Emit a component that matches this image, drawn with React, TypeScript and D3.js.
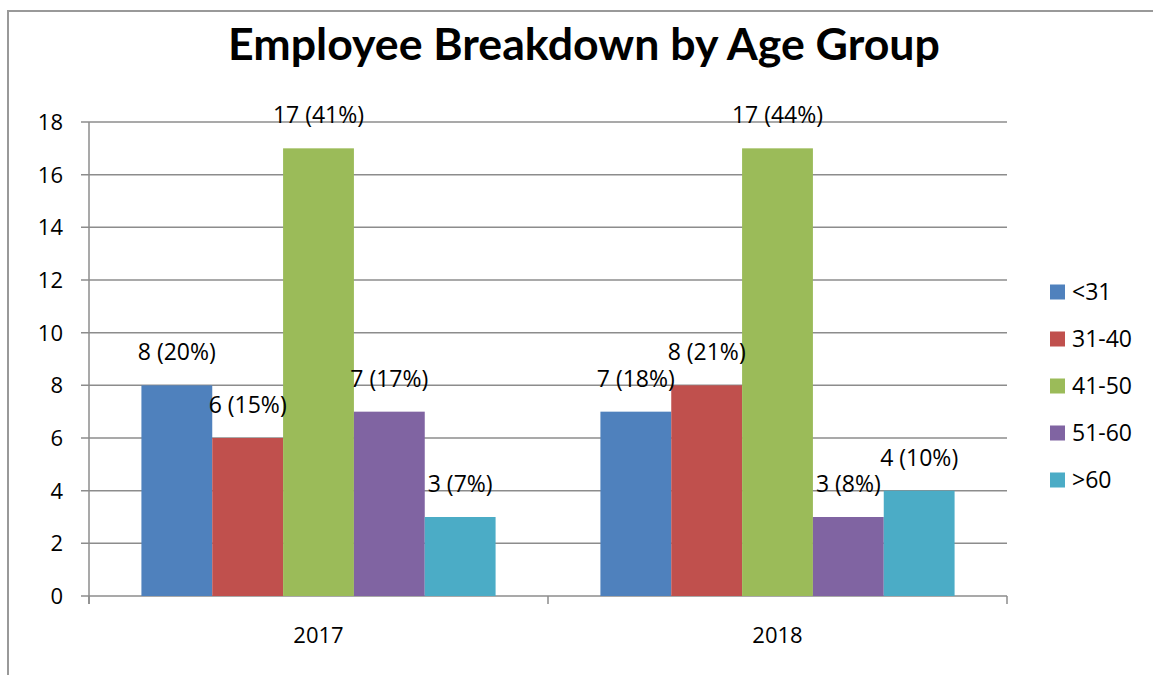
import React, { useEffect, useRef } from 'react'
import * as d3 from 'd3'

const years = ['2017', '2018']
const ageGroups = ['<31', '31-40', '41-50', '51-60', '>60']
const counts2017 = [8, 6, 17, 7, 3]
const counts2018 = [7, 8, 17, 3, 4]
const pct2017 = ['20%', '15%', '41%', '17%', '7%']
const pct2018 = ['18%', '21%', '44%', '8%', '10%']
const yTicks = [0, 2, 4, 6, 8, 10, 12, 14, 16, 18]
const colors = ['#4F81BD', '#C0504D', '#9BBB59', '#8064A2', '#4BACC6']

const W = 1153
const H = 675
const FONT = '"Open Sans", sans-serif'
const TITLE_FONT = 'Lato, "Open Sans", sans-serif'

const App = () => {
  const svgRef = useRef<SVGSVGElement>(null)

  useEffect(() => {
    const svg = d3.select(svgRef.current)
    svg.selectAll('*').remove()

    const plot = { left: 89, right: 1007, top: 122, bottom: 596 }

    // outer frame
    svg.append('rect')
      .attr('x', 8).attr('y', 11)
      .attr('width', W).attr('height', H)
      .attr('fill', 'white')
      .attr('stroke', '#999').attr('stroke-width', 2)

    const title = svg.append('text')
      .attr('x', 584).attr('y', 60)
      .attr('text-anchor', 'middle')
      .style('font-family', TITLE_FONT)
      .style('font-size', '44px')
      .style('font-weight', 'bold')
      .text('Employee Breakdown by Age Group')
    // fit title to the reference width
    const tw = (title.node() as SVGTextElement).getComputedTextLength()
    if (tw > 0) title.style('font-size', `${44 * 712 / tw}px`)

    const x0 = d3.scaleBand().domain(years).range([plot.left, plot.right]).paddingInner(0).paddingOuter(0)
    const x1 = d3.scaleBand().domain(ageGroups).range([0, x0.bandwidth()]).paddingOuter(0.74).paddingInner(0)
    const y = d3.scaleLinear().domain([0, 18]).range([plot.bottom, plot.top])

    const g = svg.append('g')

    // gridlines
    g.selectAll('.grid').data(yTicks).enter().append('line')
      .attr('x1', plot.left - 8).attr('x2', plot.right)
      .attr('y1', d => y(d)).attr('y2', d => y(d))
      .attr('stroke', '#8c8c8c').attr('stroke-width', 1.5)

    // y axis line
    g.append('line')
      .attr('x1', plot.left).attr('x2', plot.left)
      .attr('y1', plot.top).attr('y2', plot.bottom + 8)
      .attr('stroke', '#8c8c8c').attr('stroke-width', 1.5)

    // category boundary ticks
    const bounds = [plot.left, plot.left + x0.bandwidth(), plot.right]
    g.selectAll('.xt').data(bounds).enter().append('line')
      .attr('x1', d => d).attr('x2', d => d)
      .attr('y1', plot.bottom).attr('y2', plot.bottom + 8)
      .attr('stroke', '#8c8c8c').attr('stroke-width', 1.5)

    g.selectAll('.yl').data(yTicks).enter().append('text')
      .attr('x', 63).attr('y', d => y(d) + 8)
      .attr('text-anchor', 'end')
      .style('font-family', FONT).style('font-size', '22px')
      .text(d => d)

    g.selectAll('.xl').data(years).enter().append('text')
      .attr('x', d => (x0(d) as number) + x0.bandwidth() / 2)
      .attr('y', 643)
      .attr('text-anchor', 'middle')
      .style('font-family', FONT).style('font-size', '22px')
      .text(d => d)

    const series = [
      { year: '2017', counts: counts2017, pct: pct2017 },
      { year: '2018', counts: counts2018, pct: pct2018 },
    ]

    series.forEach(s => {
      const bx = x0(s.year) as number
      ageGroups.forEach((a, i) => {
        const v = s.counts[i]
        g.append('rect')
          .attr('x', bx + (x1(a) as number))
          .attr('y', y(v))
          .attr('width', x1.bandwidth())
          .attr('height', y(0) - y(v))
          .attr('fill', colors[i])
      })
      ageGroups.forEach((a, i) => {
        const v = s.counts[i]
        g.append('text')
          .attr('x', bx + (x1(a) as number) + x1.bandwidth() / 2)
          .attr('y', y(v) - 25)
          .attr('text-anchor', 'middle')
          .style('font-family', FONT).style('font-size', '23px')
          .text(`${v} (${s.pct[i]})`)
      })
    })

    const legend = svg.append('g').attr('transform', 'translate(1050, 292)')
    const items = legend.selectAll('.li').data(ageGroups).enter().append('g')
      .attr('transform', (d, i) => `translate(0, ${i * 47})`)
    items.append('rect')
      .attr('x', 0).attr('y', -7.5).attr('width', 15).attr('height', 15)
      .attr('fill', (d, i) => colors[i])
    items.append('text')
      .attr('x', 22).attr('y', 8)
      .style('font-family', FONT).style('font-size', '23px')
      .text(d => d)
  }, [])

  return <svg ref={svgRef} width={W} height={H} style={{ position: 'absolute', left: 0, top: 0 }}></svg>
}

export default App
